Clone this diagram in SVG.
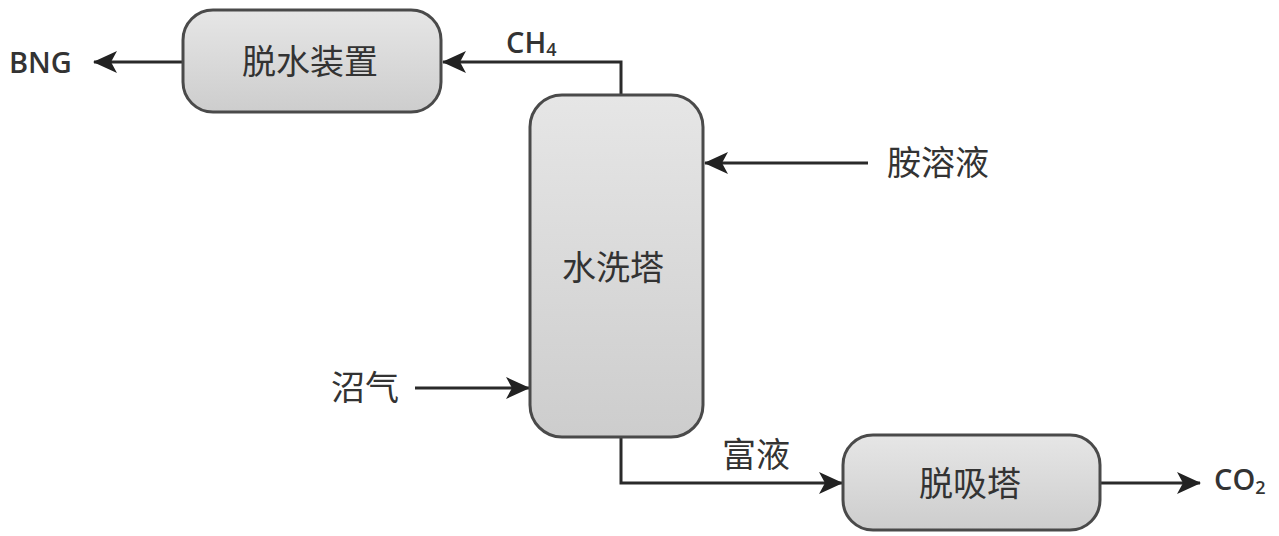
<svg xmlns="http://www.w3.org/2000/svg" width="1279" height="536" viewBox="0 0 1279 536">
  <defs>
    <linearGradient id="boxFill" x1="0" y1="0" x2="0" y2="1">
      <stop offset="0" stop-color="#e6e6e6"/>
      <stop offset="1" stop-color="#cdcdcd"/>
    </linearGradient>
    <marker id="arrowBig" viewBox="0 0 24 22" refX="23" refY="11" markerWidth="24" markerHeight="22" markerUnits="userSpaceOnUse" orient="auto">
      <path d="M0,0 L24,11 L0,22 L6,11 Z" fill="#222"/>
    </marker>
    <style>
      .box { fill: url(#boxFill); stroke: #4a4a4a; stroke-width: 3; }
      .cn { font-family: "Noto Sans CJK SC", "Liberation Sans", sans-serif; font-size: 34px; fill: #333; }
      .lat { font-family: "Open Sans", "Liberation Sans", sans-serif; font-size: 29px; font-weight: 600; fill: #333; }
      .sub { font-size: 18px; }
      .line { fill: none; stroke: #2a2a2a; stroke-width: 3; marker-end: url(#arrowBig); }
    </style>
  </defs>
  <rect width="1279" height="536" fill="#ffffff"/>

  <g id="connectors">
    <path class="line" d="M183,62 H94"/>
    <path class="line" d="M621,95 V62 H443"/>
    <path class="line" d="M868,163 H705"/>
    <path class="line" d="M415,388 H529"/>
    <path class="line" d="M621,437 V483 H842"/>
    <path class="line" d="M1100,483 H1200"/>
  </g>

  <g id="dehydration">
    <rect class="box" x="183" y="10" width="258" height="102" rx="30" ry="30"/>
    <text class="cn" x="310" y="74" text-anchor="middle">脱水装置</text>
  </g>

  <g id="scrubber">
    <rect class="box" x="530" y="95" width="173" height="342" rx="32" ry="32"/>
    <text class="cn" x="613" y="280" text-anchor="middle">水洗塔</text>
  </g>

  <g id="stripper">
    <rect class="box" x="843" y="435" width="257" height="95" rx="30" ry="30"/>
    <text class="cn" x="970" y="496" text-anchor="middle">脱吸塔</text>
  </g>

  <g id="labels">
    <text class="lat" x="9" y="73">BNG</text>
    <text class="lat" x="506" y="53">CH<tspan class="sub" dy="3">4</tspan></text>
    <text class="cn" x="887" y="175">胺溶液</text>
    <text class="cn" x="331" y="400">沼气</text>
    <text class="cn" x="722" y="467">富液</text>
    <text class="lat" x="1214" y="490">CO<tspan class="sub" dy="4">2</tspan></text>
  </g>
</svg>
